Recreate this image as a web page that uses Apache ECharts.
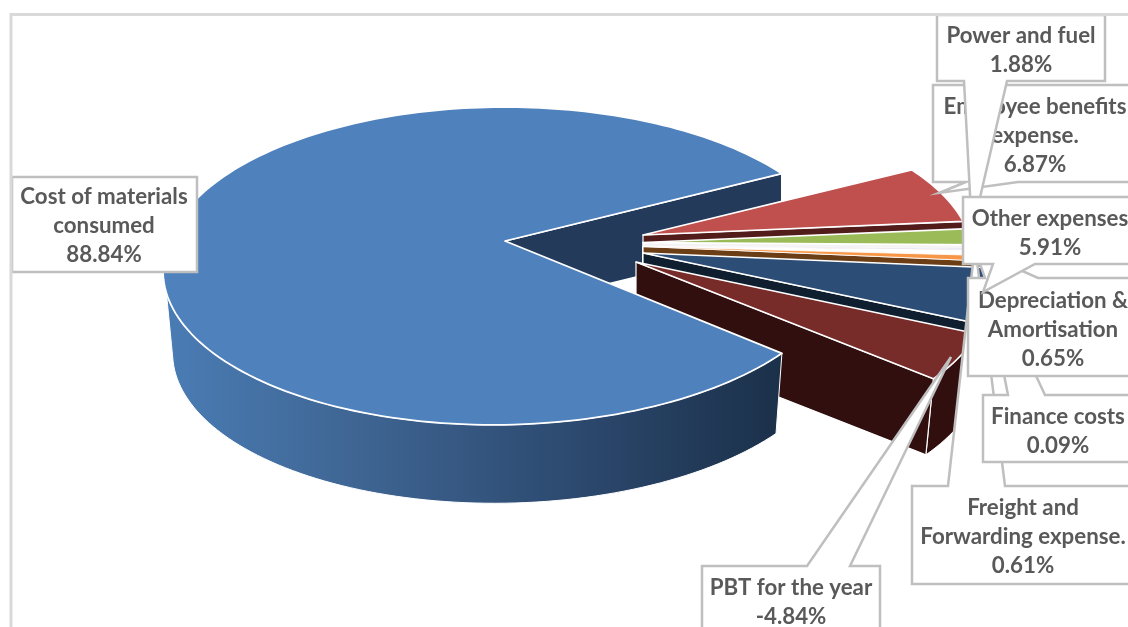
<!DOCTYPE html>
<html>
<head>
<meta charset="utf-8">
<style>html,body{margin:0;padding:0;background:#fff}#c{width:1128px;height:627px}</style>
<script src="https://cdn.jsdelivr.net/npm/echarts@6/dist/echarts.min.js"></script>
</head>
<body>
<div id="c"></div>
<script>
// ---- data ----
var categories = ['Cost of materials\nconsumed','Employee benefits\nexpense.','Power and fuel','Finance costs','Depreciation &\nAmortisation','Freight and\nForwarding expense.','Other expenses','PBT for the year'];
var values = [88.84, 6.87, 1.88, 0.09, 0.65, 0.61, 5.91, -4.84];

// ---- styles ----
var topColors  = ['#4f81bd','#c0504d','#9bbb59','#8064a2','#ffffff','#f79646','#2c4d75','#772c2a'];
var wallColors = ['#243a5a','#521c1a','#f4f4f4','#ffffff','#ffffff','#6b3e15','#0f1f30','#300f0e'];

// ---- pie layout ----
var A = 338, B = 155, K = 0.157;
var START_DEG = -27.85;           // where slice 1 begins; slices run clockwise
var apexes = [[505,241],[643,235],[643,242.5],[643,246.5],[643,247.5],[643,246.5],[643,253],[636,262]];
var radii  = [1,0.965,1,1,1,1,1,1.04];
var xScale = [0.994,1,1,1,1,1,1,1];
var lean   = [10,0,0,0,0,0,0,0];
var bottomScale = [0.975,0.985,0.985,0.985,0.985,0.985,0.985,0.975];
var depths = [83,80,80,80,80,80,80,79];
var SILHOUETTE_TOP_DEG = 161.4, SILHOUETTE_LOW_DEG = 166;

var total = values.reduce(function(s,v){return s+Math.abs(v);},0);
var spans = values.map(function(v){return Math.abs(v)/total*360;});
var ranges = [];
(function(){
  var a = START_DEG;
  for (var i=1;i<values.length;i++){ ranges[i]=[a,a+spans[i]]; a+=spans[i]; }
  ranges[0]=[a,a+spans[0]];
})();

function pt(i,deg,low){
  var t=deg*Math.PI/180,u=Math.cos(t),v=Math.sin(t),s=1/(1-K*v);
  var f=radii[i]*(low?bottomScale[i]:1);
  return [apexes[i][0]+(A*xScale[i]*u-lean[i]*Math.max(v,0))*f*s+(low&&i===0?1:0), apexes[i][1]+B*f*v*s+(low?depths[i]:0)];
}
function arc(i,a,b,low){
  var out=[],n=Math.max(2,Math.ceil(Math.abs(b-a)/1.5));
  for(var k=0;k<=n;k++) out.push(pt(i,a+(b-a)*k/n,low));
  return out;
}
function poly(points,fill,lw,z){
  return {type:'polygon',z2:z,shape:{points:points},style:{fill:fill,stroke:'#ffffff',lineWidth:lw,lineJoin:'round'}};
}
function apexLow(i,d){return [apexes[i][0],apexes[i][1]+d];}

function drawBackWall(){
  var e=ranges[0][1], d=68, top=pt(0,e,false);
  return [poly([apexes[0],top,[top[0],top[1]+d],apexLow(0,d)],wallColors[0],1.5,1)];
}
function drawSmall(i){
  var r=ranges[i], z=10+i*3;
  var e=pt(i,r[1],false), el=pt(i,r[1],true);
  var top=[apexes[i]].concat(arc(i,r[0],r[1],false));
  var outer=arc(i,r[0],r[1],false).concat(arc(i,r[1],r[0],true));
  var thin=Math.abs(values[i])<1;
  return [
    poly(outer,wallColors[i],1,z),
    poly([apexes[i],e,el,apexLow(i,depths[i])],wallColors[i],1.2,z+1),
    poly(top,topColors[i],thin?0.8:1.6,z+2)
  ];
}
function drawMain(){
  var r=ranges[0];
  var grad=new echarts.graphic.LinearGradient(0,0,1,0,[
    {offset:0,color:'#4a7cb4'},{offset:0.3,color:'#3f6694'},{offset:0.65,color:'#2d4a70'},{offset:1,color:'#1b3049'}]);
  var outer=arc(0,r[0],SILHOUETTE_TOP_DEG,false).concat(arc(0,SILHOUETTE_LOW_DEG,r[0],true));
  var top=[apexes[0]].concat(arc(0,r[0],r[1],false));
  var w=poly(outer,grad,1,60);
  return [w,poly(top,topColors[0],1.8,61)];
}

// ---- callouts: layout of label boxes with their pointers ----
var FRAME_COLOR='#d9d9d9', BOX='#bfbfbf', TEXT='#595959';
var callouts = [
  {i:0, text:[104,226], pts:[[12,177],[197,177],[197,272],[12,272]]},
  {i:7, text:[791,602], pts:[[702,566],[807,566],[951,357],[850,566],[880,566],[880,650],[702,650]]},
  {i:1, text:[1035,136], pts:[[933,85],[1140,85],[1140,182],[1018,182],[939,193],[966,182],[933,182]]},
  {i:2, text:[1021,50], pts:[[937,15],[1105,15],[1105,81],[1007,81],[972,232],[964,81],[937,81]]},
  {i:5, text:[1023,537], pts:[[912,486],[948,486],[975,245],[1005,486],[1140,486],[1140,584],[912,584]]},
  {i:3, text:[1058,431], pts:[[983,395],[1008,395],[981,258],[1045,395],[1140,395],[1140,462],[983,462]]},
  {i:4, text:[1053,330], pts:[[968,278],[985,278],[975,250],[1038,278],[1140,278],[1140,376],[968,376]]},
  {i:6, text:[1050,233], pts:[[963,197],[1140,197],[1140,264],[1035,264],[983,292],[993,264],[963,264]]}
];
function labelText(i){ return categories[i]+'\n'+values[i].toFixed(2)+'%'; }

var chart=echarts.init(document.getElementById('c'),null,{renderer:'canvas'});
var rows=[['back',0]];
for(var n=1;n<values.length;n++) rows.push(['small',n]);
rows.push(['main',0]);

chart.setOption({
  animation:false,
  backgroundColor:'#ffffff',
  series:[
    {type:'custom',coordinateSystem:'none',silent:true,z:2,
     data:rows.map(function(r,k){return [k];}),
     renderItem:function(p){
       var r=rows[p.dataIndex];
       var ch=r[0]==='back'?drawBackWall():r[0]==='main'?drawMain():drawSmall(r[1]);
       return {type:'group',children:ch};
     }},
    {type:'custom',coordinateSystem:'none',silent:true,z:3,
     data:callouts.map(function(c,k){return [k];}),
     renderItem:function(p){
       var c=callouts[p.dataIndex], z=p.dataIndex*2;
       return {type:'group',children:[
         {type:'polygon',z2:z,shape:{points:c.pts},style:{fill:'#fff',stroke:BOX,lineWidth:2.5,lineJoin:'miter'}},
         {type:'text',z2:z+1,style:{text:labelText(c.i),x:c.text[0],y:c.text[1],align:'center',verticalAlign:'middle',
            fill:TEXT,lineHeight:29.3,font:'bold 22.3px Lato, "Open Sans", sans-serif'}}
       ]};
     }}
  ],
  graphic:[
    {type:'polyline',z:10,silent:true,shape:{points:[[11,640],[11,14.5],[1140,14.5]]},style:{fill:'none',stroke:FRAME_COLOR,lineWidth:3}}
  ]
});
</script>
</body>
</html>
